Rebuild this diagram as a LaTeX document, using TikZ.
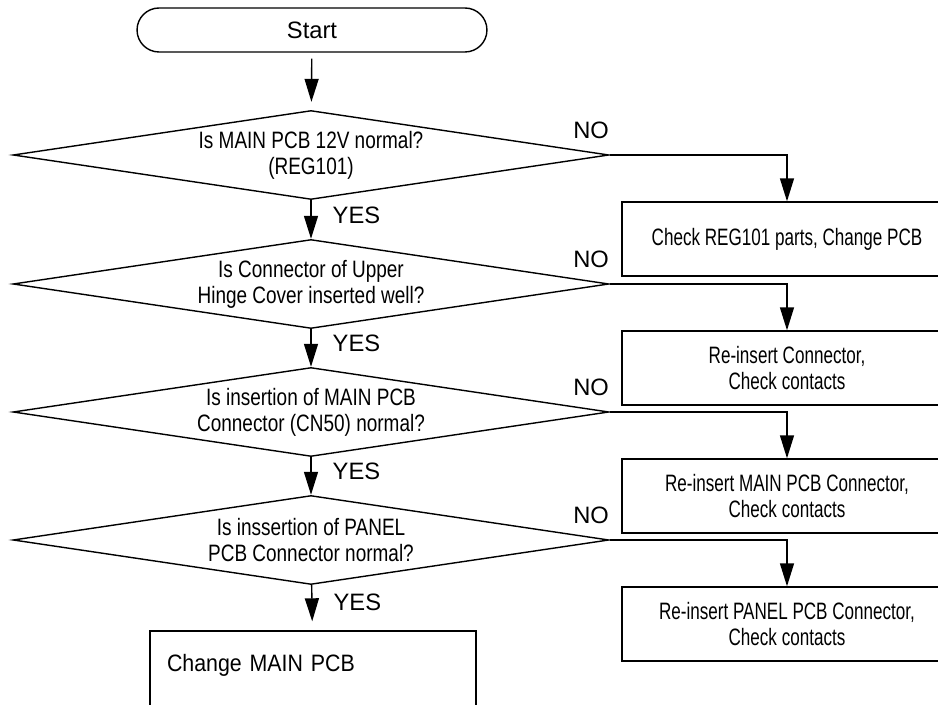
\documentclass[tikz,border=0pt]{standalone}
\usepackage{fontspec}
\setmainfont{Liberation Sans}
\newfontfamily\diafont[FakeStretch=0.8]{Liberation Sans}
\newfontfamily\boxfont[FakeStretch=0.72]{Liberation Sans}
\newfontfamily\endfont[FakeStretch=0.9]{Liberation Sans}
\usetikzlibrary{shapes.geometric,arrows.meta,positioning}

\begin{document}
\begin{tikzpicture}[x=0.02cm, y=-0.02cm, line width=0.8pt, font=\fontsize{13.5}{14.7}\selectfont]
\tikzset{
    term/.style={rectangle, draw, rounded corners=0.44cm, minimum width=7cm, minimum height=0.88cm, inner sep=0pt},
    decision/.style={diamond, draw, aspect=6.7, minimum width=11.92cm, minimum height=1.78cm, inner sep=0pt, align=center, font=\fontsize{13.5}{14.7}\diafont},
    action/.style={rectangle, draw, minimum width=6.6cm, minimum height=1.48cm, inner sep=0pt, align=center, font=\fontsize{13.5}{14.7}\boxfont},
    lastaction/.style={rectangle, draw, minimum width=6.52cm, minimum height=1.68cm, text width=5.84cm, inner xsep=0.34cm, text depth=0.42cm, align=left, font=\fontsize{13.5}{14.7}\endfont},
    flow/.style={-{Triangle[length=0.46cm,width=0.28cm]}},
    yeslbl/.style={anchor=west, inner sep=0pt, xshift=0.42cm, pos=0.38},
    nolbl/.style={anchor=base east, inner sep=0pt, yshift=0.32cm}
}
\clip (0,0) rectangle (938,705);

% --- nodes ---
\node[term] (start) at (312,30) {Start};

\node[decision] (q1) at (311,155) {Is MAIN PCB 12V normal?\\(REG101)};
\node[decision] (q2) at (311,284) {Is Connector of Upper\\Hinge Cover inserted well?};
\node[decision] (q3) at (311,412) {Is insertion of MAIN PCB\\Connector (CN50) normal?};
\node[decision] (q4) at (311,540) {Is inssertion of PANEL\\PCB Connector normal?};

\node[action] (a1) at (787,239) {Check REG101 parts, Change PCB};
\node[action] (a2) at (787,368) {Re-insert Connector,\\Check contacts};
\node[action] (a3) at (787,496) {Re-insert MAIN PCB Connector,\\Check contacts};
\node[action] (a4) at (787,624) {Re-insert PANEL PCB Connector,\\Check contacts};

\node[lastaction] (a5) at (313,673) {Change MAIN PCB};

% --- edges (down, YES) ---
\draw[flow, shorten <=0.12cm, shorten >=0.16cm] (start) -- (q1);
\draw[flow] (q1) -- node[yeslbl] {YES} (q2);
\draw[flow] (q2) -- node[yeslbl] {YES} (q3);
\draw[flow] (q3) -- node[yeslbl] {YES} (q4);
\draw[flow, shorten >=0.18cm] (q4) -- node[yeslbl] {YES} (a5);

% --- edges (right, NO) ---
\draw[flow] (q1.east) node[nolbl] {NO} -| (a1.north);
\draw[flow] (q2.east) node[nolbl] {NO} -| (a2.north);
\draw[flow] (q3.east) node[nolbl] {NO} -| (a3.north);
\draw[flow] (q4.east) node[nolbl] {NO} -| (a4.north);
\end{tikzpicture}
\end{document}
